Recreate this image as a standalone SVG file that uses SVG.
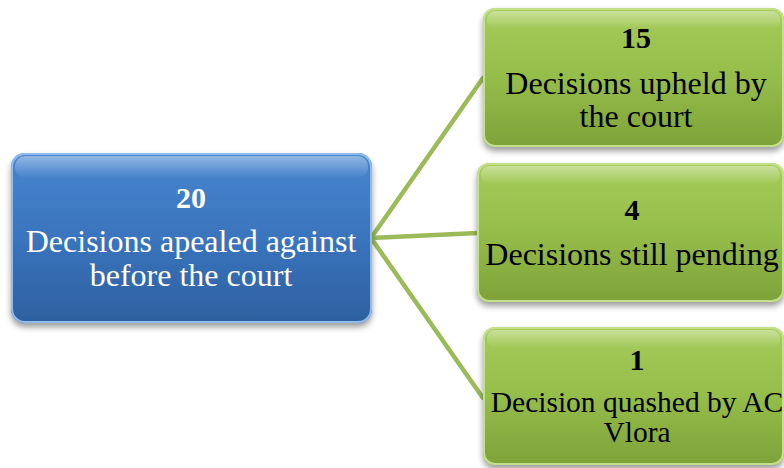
<svg xmlns="http://www.w3.org/2000/svg" width="784" height="468" viewBox="0 0 784 468">
<defs>
<linearGradient id="gBlue" x1="0" y1="0" x2="0" y2="1">
<stop offset="0" stop-color="#4886cf"/>
<stop offset="0.5" stop-color="#3a74bd"/>
<stop offset="1" stop-color="#2e609f"/>
</linearGradient>
<linearGradient id="gGreen" x1="0" y1="0" x2="0" y2="1">
<stop offset="0" stop-color="#a6cc5a"/>
<stop offset="0.5" stop-color="#95bd4a"/>
<stop offset="1" stop-color="#7ea239"/>
</linearGradient>
<linearGradient id="gloss" x1="0" y1="0" x2="0" y2="1">
<stop offset="0" stop-color="#ffffff" stop-opacity="0.4"/>
<stop offset="1" stop-color="#ffffff" stop-opacity="0"/>
</linearGradient>
<filter id="sh" x="-10%" y="-10%" width="120%" height="130%">
<feGaussianBlur in="SourceAlpha" stdDeviation="3"/>
<feOffset dx="0" dy="4" result="b"/>
<feComponentTransfer><feFuncA type="linear" slope="0.4"/></feComponentTransfer>
<feMerge><feMergeNode/><feMergeNode in="SourceGraphic"/></feMerge>
</filter>
</defs>
<style>
.t{font-family:"Liberation Serif","Times New Roman",serif;text-anchor:middle}
.b{font-weight:bold}
.w{fill:#ffffff}
.k{fill:#000000}
.conn{stroke:#9bbb59;stroke-width:4.5;fill:none;stroke-linecap:round}
.gloss{fill:url(#gloss)}
.edgeB{fill:none;stroke:#8fbbee;stroke-width:2}
.edgeG{fill:none;stroke:#c4e08a;stroke-width:2}
</style>
<g id="connectors">
<line class="conn" x1="371" y1="238" x2="483" y2="78"/>
<line class="conn" x1="371" y1="238" x2="478" y2="233"/>
<line class="conn" x1="371" y1="238" x2="483" y2="398"/>
</g>
<g id="root">
<rect x="11" y="153" width="361" height="170" rx="14" fill="url(#gBlue)" filter="url(#sh)"/>
<rect x="15" y="156" width="353" height="22" rx="10" class="gloss"/>
<rect x="12" y="154" width="359" height="168" rx="13" class="edgeB"/>
<text class="t b w" x="191" y="208" font-size="30">20</text>
<text class="t w" x="191" y="252" font-size="32">Decisions apealed against</text>
<text class="t w" x="191" y="286" font-size="32">before the court</text>
</g>
<g id="upheld">
<rect x="483" y="8" width="301" height="139" rx="12" fill="url(#gGreen)" filter="url(#sh)"/>
<rect x="487" y="11" width="293" height="18" rx="8" class="gloss"/>
<rect x="484" y="9" width="299" height="137" rx="11" class="edgeG"/>
<text class="t b k" x="636" y="48" font-size="30">15</text>
<text class="t k" x="636" y="94" font-size="32">Decisions upheld by</text>
<text class="t k" x="636" y="127" font-size="32">the court</text>
</g>
<g id="pending">
<rect x="477" y="163" width="307" height="139" rx="12" fill="url(#gGreen)" filter="url(#sh)"/>
<rect x="481" y="166" width="299" height="18" rx="8" class="gloss"/>
<rect x="478" y="164" width="305" height="137" rx="11" class="edgeG"/>
<text class="t b k" x="632" y="220" font-size="30">4</text>
<text class="t k" x="632" y="265" font-size="32">Decisions still pending</text>
</g>
<g id="quashed">
<rect x="483" y="327" width="301" height="138" rx="12" fill="url(#gGreen)" filter="url(#sh)"/>
<rect x="487" y="330" width="293" height="18" rx="8" class="gloss"/>
<rect x="484" y="328" width="299" height="136" rx="11" class="edgeG"/>
<text class="t b k" x="637" y="370" font-size="30">1</text>
<text class="t k" x="637" y="412" font-size="29.5">Decision quashed by AC</text>
<text class="t k" x="637" y="442" font-size="29.5">Vlora</text>
</g>
</svg>
